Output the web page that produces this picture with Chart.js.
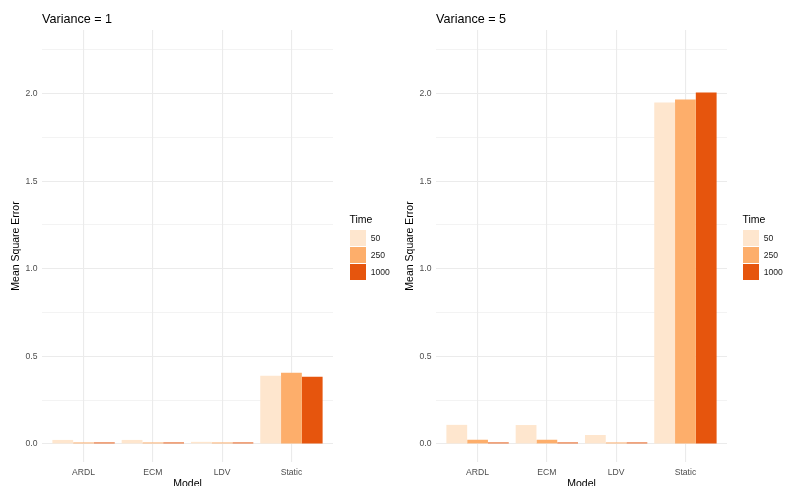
<!DOCTYPE html>
<html>
<head>
<meta charset="utf-8">
<script src="https://cdn.jsdelivr.net/npm/chart.js@4.4.1/dist/chart.umd.min.js"></script>
<style>
  html, body { margin: 0; padding: 0; background: #fff; }
  body { width: 785px; height: 486px; position: relative; overflow: hidden;
         font-family: "Liberation Sans", Arial, sans-serif; }
  canvas { position: absolute; top: 0; }
  .ttl { position: absolute; font-size: 12.6px; line-height: 1; color: #000; white-space: nowrap; }
  .leg-title { position: absolute; font-size: 10.5px; line-height: 1; color: #000; white-space: nowrap; }
  .key { position: absolute; width: 16px; height: 16px; }
  .lab { position: absolute; font-size: 8.6px; line-height: 1; color: #1a1a1a; white-space: nowrap; }
</style>
</head>
<body>
<canvas id="panel1" width="394" height="486" style="left:0px"></canvas>
<canvas id="panel2" width="391" height="486" style="left:394px"></canvas>
<div id="overlay"></div>
<script>
// Models on the x axis and sample sizes (legend groups)
const models = ['ARDL', 'ECM', 'LDV', 'Static'];
const timeLabels = ['50', '250', '1000'];
const timeColors = ['#FEE6CE', '#FDAE6B', '#E6550D'];

// Mean square error, variance = 1
const var1Time50   = [0.023, 0.023, 0.012, 0.389];
const var1Time250  = [0.006, 0.006, 0.002, 0.406];
const var1Time1000 = [0.003, 0.003, 0.002, 0.383];

// Mean square error, variance = 5
const var5Time50   = [0.109, 0.108, 0.051, 1.949];
const var5Time250  = [0.024, 0.024, 0.005, 1.966];
const var5Time1000 = [0.006, 0.006, 0.002, 2.006];

// Y axis gridlines (major ones get labels)
const yGridValues  = [0, 0.25, 0.5, 0.75, 1.0, 1.25, 1.5, 1.75, 2.0, 2.25];
const yLabelValues = [0, 0.5, 1.0, 1.5, 2.0];

Chart.defaults.font.family = '"Liberation Sans", Arial, sans-serif';

function isMajor(v) {
  return yLabelValues.some(m => Math.abs(m - v) < 1e-9);
}

function makePanel(id, series, padRight) {
  const ctx = document.getElementById(id);
  return new Chart(ctx, {
    type: 'bar',
    data: {
      datasets: timeLabels.map((t, k) => ({
        label: t,
        data: models.map((m, i) => ({ x: i + 1, y: series[k][i] })),
        backgroundColor: timeColors[k],
        borderWidth: 0,
        minBarLength: 1.5,
        categoryPercentage: 0.9,
        barPercentage: 1.0
      }))
    },
    options: {
      responsive: false,
      animation: false,
      devicePixelRatio: 1,
      layout: { padding: { top: 30, right: padRight, bottom: 0, left: 0 } },
      plugins: { legend: { display: false }, tooltip: { enabled: false } },
      scales: {
        x: {
          type: 'linear',
          min: 0.4,
          max: 4.6,
          offset: false,
          grid: { offset: false, color: '#ebebeb', lineWidth: 1.1, drawTicks: false },
          border: { display: false },
          afterBuildTicks: s => { s.ticks = models.map((m, i) => ({ value: i + 1 })); },
          ticks: {
            padding: 5,
            color: '#4d4d4d',
            font: { size: 8.6 },
            autoSkip: false,
            maxRotation: 0,
            callback: v => models[Math.round(v) - 1]
          },
          title: {
            display: true, text: 'Model', color: '#000',
            font: { size: 10.5 }, padding: { top: 0, bottom: -4 }
          },
          afterFit: s => { s.height = 24; }
        },
        y: {
          min: -0.103,
          max: 2.363,
          grid: {
            color: '#ebebeb',
            lineWidth: c => (c.tick && isMajor(c.tick.value)) ? 1.1 : 0.6,
            drawTicks: false
          },
          border: { display: false },
          afterBuildTicks: s => { s.ticks = yGridValues.map(v => ({ value: v })); },
          ticks: {
            padding: 4.5,
            color: '#4d4d4d',
            font: { size: 8.6 },
            autoSkip: false,
            callback: v => isMajor(v) ? v.toFixed(1) : ''
          },
          title: {
            display: true, text: 'Mean Square Error', color: '#000',
            font: { size: 10.5 }, padding: { top: 10, bottom: 0 }
          },
          afterFit: s => { s.width = 42; }
        }
      }
    }
  });
}

makePanel('panel1', [var1Time50, var1Time250, var1Time1000], 61);
makePanel('panel2', [var5Time50, var5Time250, var5Time1000], 58);

// Panel titles and per-panel legends
const overlay = document.getElementById('overlay');
function addEl(cls, left, top, text, bg) {
  const d = document.createElement('div');
  d.className = cls;
  d.style.left = left + 'px';
  d.style.top = top + 'px';
  if (text !== undefined) d.textContent = text;
  if (bg) d.style.background = bg;
  overlay.appendChild(d);
}
const panelTitles = ['Variance = 1', 'Variance = 5'];
const titleX = [42, 436];
const legendX = [350, 743];
panelTitles.forEach((t, p) => {
  addEl('ttl', titleX[p], 12.8, t);
  addEl('leg-title', legendX[p] - 0.5, 214.4, 'Time');
  timeLabels.forEach((lab, k) => {
    const keyTop = 230.2 + k * 17;
    addEl('key', legendX[p], keyTop, undefined, timeColors[k]);
    addEl('lab', legendX[p] + 20.7, keyTop + 8 - 4.2, lab);
  });
});
</script>
</body>
</html>
